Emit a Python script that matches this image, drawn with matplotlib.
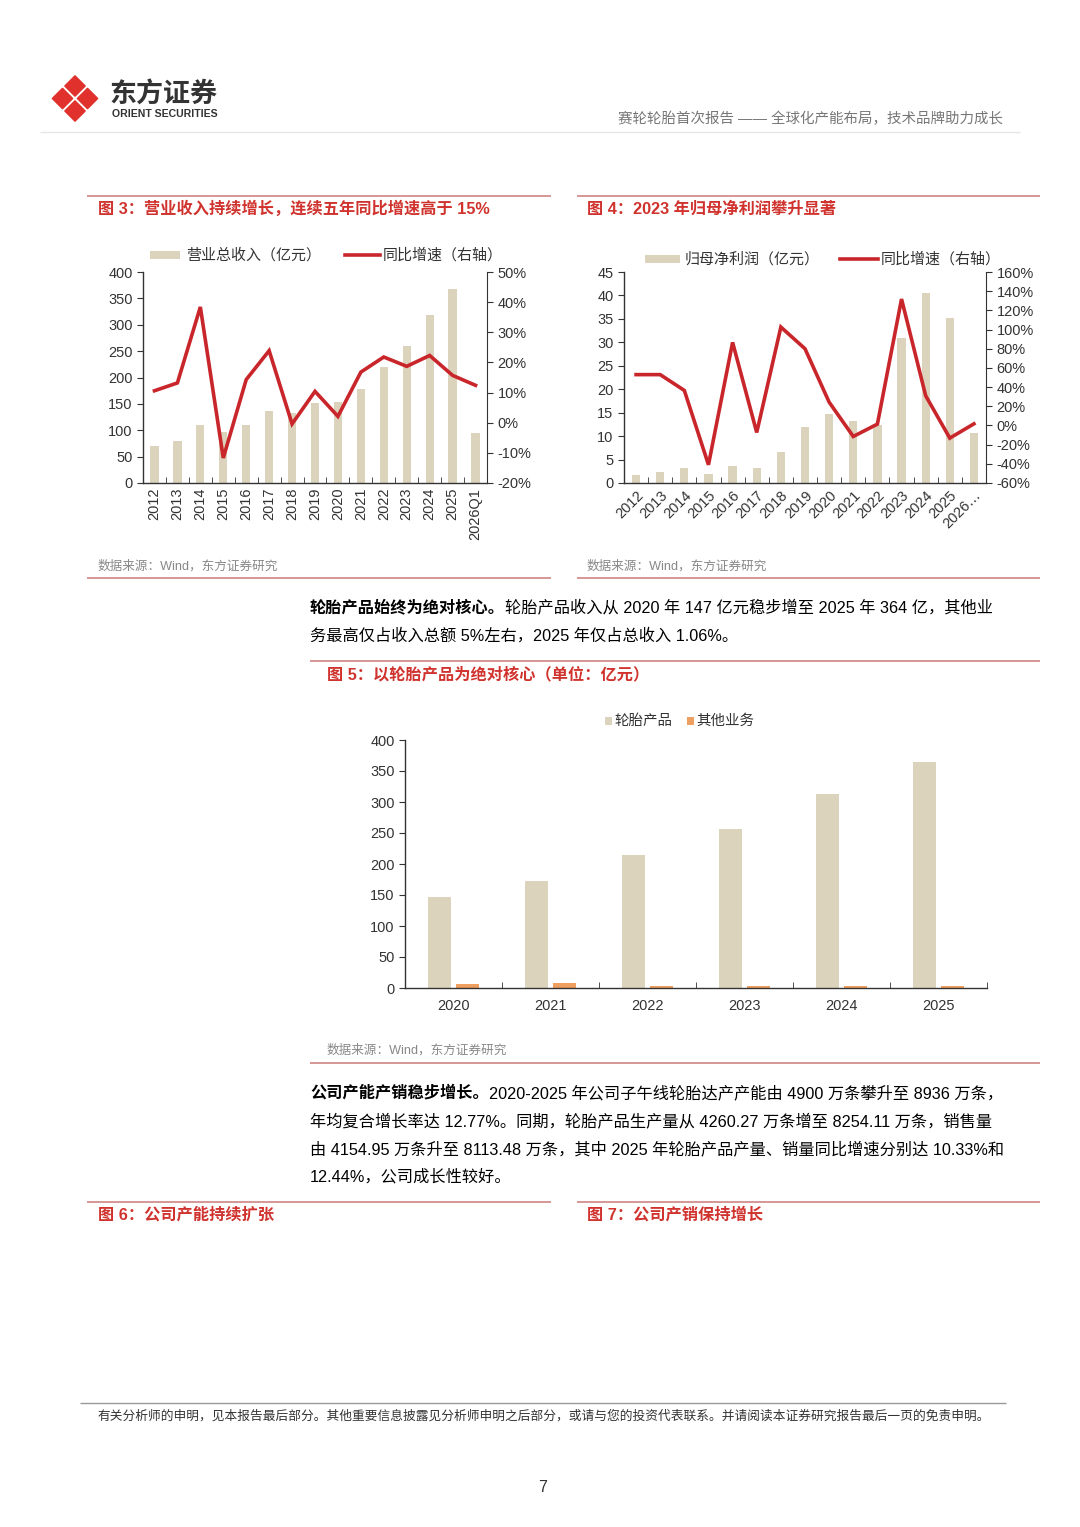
import matplotlib
matplotlib.use('Agg')
import matplotlib.pyplot as plt
from matplotlib.patches import Rectangle, Polygon
import numpy as np

plt.rcParams['font.family'] = ['Liberation Sans', 'Noto Sans CJK SC', 'DejaVu Sans']
plt.rcParams['axes.unicode_minus'] = False

# 图3 营业总收入
years3 = ['2012', '2013', '2014', '2015', '2016', '2017', '2018', '2019',
          '2020', '2021', '2022', '2023', '2024', '2025', '2026Q1']
revenue = [70, 79, 110, 96, 110, 137, 133, 151, 154, 179, 219, 259, 318, 367, 94]
revenue_yoy = [10.6, 13.2, 38.4, -11.7, 14.3, 23.9, -0.4, 10.4, 2.1, 16.8,
               21.8, 18.7, 22.3, 15.7, 12.4]

# 图4 归母净利润
years4 = ['2012', '2013', '2014', '2015', '2016', '2017', '2018', '2019',
          '2020', '2021', '2022', '2023', '2024', '2025', '2026…']
profit = [1.6, 2.4, 3.3, 1.9, 3.6, 3.2, 6.7, 11.9, 14.8, 13.2, 12.3, 31.0,
          40.6, 35.2, 10.6]
profit_yoy = [53, 53, 36.5, -41, 86.6, -7.3, 102.6, 80, 24.3, -11.5, 1.4,
              131.8, 31, -13.2, 1.7]

# 图5 收入构成
years5 = ['2020', '2021', '2022', '2023', '2024', '2025']
tire = [147, 172, 215, 256, 313, 364]
other = [6.5, 8, 3, 3.5, 3.5, 3.8]

W, H = 1080, 1527
BEIGE = '#DCD3BC'
RED = '#C9262B'
ORANGE = '#EFA060'
TITLE_RED = '#D0332E'
RULE_RED = '#CC7A78'
TXT = '#333333'
GRAY = '#888888'
TICK = 14.5

fig = plt.figure(figsize=(W / 100, H / 100), dpi=100)
fig.patch.set_facecolor('white')

# overlay in pixel coordinates for page decoration
pg = fig.add_axes([0, 0, 1, 1])
pg.set_xlim(0, W)
pg.set_ylim(H, 0)
pg.axis('off')
pg.set_facecolor('none')


def pt(px):
    return px / 1.389


def hline(x0, x1, y, color=RULE_RED, lw=1.1):
    pg.plot([x0, x1], [y, y], color=color, lw=lw, solid_capstyle='butt')


def add_ax(l, t, r, b):
    return fig.add_axes([l / W, 1 - b / H, (r - l) / W, (b - t) / H])


# logo
cx, cy = 75, 98.5
d, h = 12.5, 10.0
for dx, dy in [(0, -d), (0, d), (-d, 0), (d, 0)]:
    px, py = cx + dx, cy + dy
    pg.add_patch(Polygon([(px, py - h), (px + h, py), (px, py + h), (px - h, py)],
                         closed=True, facecolor='#E0312D', edgecolor='#E0312D',
                         lw=1.2, joinstyle='round'))
pg.text(109, 95, '东方证券', fontsize=pt(27), fontweight='bold', color='#333333',
        va='center', ha='left', family=['Noto Sans CJK SC'])
pg.text(112, 114, 'ORIENT SECURITIES', fontsize=pt(10.5), fontweight='bold',
        color='#333333', va='center', ha='left')
pg.text(1003, 119, '赛轮轮胎首次报告 —— 全球化产能布局，技术品牌助力成长',
        fontsize=pt(14.5), color='#777777', ha='right', va='center')
hline(40, 1020, 132, color='#E6E6E6', lw=1)

TS = pt(16.2)
SRC = pt(12.6)
# figure titles and rules
hline(87, 551, 196)
hline(577, 1040, 196)
pg.text(98, 209, '图 3：营业收入持续增长，连续五年同比增速高于 15%', fontsize=TS,
        color=TITLE_RED, fontweight='bold', va='center')
pg.text(587, 209, '图 4：2023 年归母净利润攀升显著', fontsize=TS,
        color=TITLE_RED, fontweight='bold', va='center')
pg.text(98, 566, '数据来源：Wind，东方证券研究', fontsize=SRC, color=GRAY, va='center')
pg.text(587, 566, '数据来源：Wind，东方证券研究', fontsize=SRC, color=GRAY, va='center')
hline(87, 551, 578)
hline(577, 1040, 578)

hline(310, 1040, 661)
pg.text(327, 674, '图 5：以轮胎产品为绝对核心（单位：亿元）', fontsize=TS,
        color=TITLE_RED, fontweight='bold', va='center')
pg.text(327, 1050, '数据来源：Wind，东方证券研究', fontsize=SRC, color=GRAY, va='center')
hline(310, 1040, 1063)

hline(87, 551, 1202)
hline(577, 1040, 1202)
pg.text(98, 1215, '图 6：公司产能持续扩张', fontsize=TS, color=TITLE_RED,
        fontweight='bold', va='center')
pg.text(587, 1215, '图 7：公司产销保持增长', fontsize=TS, color=TITLE_RED,
        fontweight='bold', va='center')

hline(80, 1006, 1403, color='#999999', lw=1)
pg.text(98, 1416, '有关分析师的申明，见本报告最后部分。其他重要信息披露见分析师申明之后部分，或请与您的投资代表联系。并请阅读本证券研究报告最后一页的免责申明。',
        fontsize=pt(12.7), color=TXT, va='center')
pg.text(543, 1487, '7', fontsize=pt(16), color=TXT, ha='center', va='center')

# body paragraphs (bold lead + normal text)
fig.canvas.draw()
renderer = fig.canvas.get_renderer()
inv = pg.transData.inverted()


def para(lines, bold, y0, step, x=310, size=pt(16.2)):
    for i, line in enumerate(lines):
        y = y0 + i * step
        xx = x
        if i == 0:
            t = pg.text(xx, y, bold, fontsize=size, fontweight='bold', color='black', va='center')
            bb = t.get_window_extent(renderer)
            xx = inv.transform((bb.x1, bb.y0))[0]
        pg.text(xx, y, line, fontsize=size, color='black', va='center')


para(['轮胎产品收入从 2020 年 147 亿元稳步增至 2025 年 364 亿，其他业',
      '务最高仅占收入总额 5%左右，2025 年仅占总收入 1.06%。'],
     '轮胎产品始终为绝对核心。', 607, 29)
para(['2020-2025 年公司子午线轮胎达产产能由 4900 万条攀升至 8936 万条，',
      '年均复合增长率达 12.77%。同期，轮胎产品生产量从 4260.27 万条增至 8254.11 万条，销售量',
      '由 4154.95 万条升至 8113.48 万条，其中 2025 年轮胎产品产量、销量同比增速分别达 10.33%和',
      '12.44%，公司成长性较好。'],
     '公司产能产销稳步增长。', 1093, 28)


def style_axes(ax):
    ax.spines['top'].set_visible(False)
    ax.spines['right'].set_visible(False)
    for s in ['left', 'bottom']:
        ax.spines[s].set_color('#333333')
        ax.spines[s].set_linewidth(1)
    ax.tick_params(axis='y', labelsize=pt(TICK), colors='#333333', length=4, direction='out')
    ax.tick_params(axis='x', which='major', length=0, labelsize=pt(TICK), colors='#333333')
    ax.tick_params(axis='x', which='minor', length=4, direction='in', color='#333333')


def style_right(axb, ticks):
    axb.set_yticks(ticks)
    axb.set_yticklabels([f'{v}%' for v in ticks])
    for s in ['top', 'left', 'bottom']:
        axb.spines[s].set_visible(False)
    axb.spines['right'].set_color('#333333')
    axb.tick_params(axis='y', labelsize=pt(TICK), colors='#333333', length=4)


# ---------- 图3 ----------
ax3 = add_ax(143, 272, 487, 483)
x3 = np.arange(len(years3))
ax3.bar(x3, revenue, width=0.36, color=BEIGE, zorder=2)
ax3.set_xlim(-0.5, len(years3) - 0.5)
ax3.set_ylim(0, 400)
ax3.set_yticks(range(0, 401, 50))
ax3.set_xticks(x3)
ax3.set_xticks(np.arange(-0.5, len(years3), 1), minor=True)
ax3.set_xticklabels(years3, rotation=90)
style_axes(ax3)
ax3b = ax3.twinx()
ax3b.plot(x3, revenue_yoy, color=RED, lw=2.6, solid_joinstyle='miter')
ax3b.set_ylim(-20, 50)
style_right(ax3b, list(range(-20, 51, 10)))

pg.add_patch(Rectangle((150, 251), 30, 8, facecolor=BEIGE, edgecolor='none'))
pg.text(186, 255, '营业总收入（亿元）', fontsize=pt(15), color=TXT, va='center')
pg.plot([345, 380], [255, 255], color=RED, lw=2.6)
pg.text(383, 255, '同比增速（右轴）', fontsize=pt(15), color=TXT, va='center')

# ---------- 图4 ----------
ax4 = add_ax(624, 272, 986, 483)
x4 = np.arange(len(years4))
ax4.bar(x4, profit, width=0.34, color=BEIGE, zorder=2)
ax4.set_xlim(-0.5, len(years4) - 0.5)
ax4.set_ylim(0, 45)
ax4.set_yticks(range(0, 46, 5))
ax4.set_xticks(x4)
ax4.set_xticks(np.arange(-0.5, len(years4), 1), minor=True)
ax4.set_xticklabels(years4, rotation=45, ha='right', rotation_mode='anchor')
style_axes(ax4)
ax4b = ax4.twinx()
ax4b.plot(x4, profit_yoy, color=RED, lw=2.6, solid_joinstyle='miter')
ax4b.set_ylim(-60, 160)
style_right(ax4b, list(range(-60, 161, 20)))

pg.add_patch(Rectangle((645, 255), 35, 8, facecolor=BEIGE, edgecolor='none'))
pg.text(685, 259, '归母净利润（亿元）', fontsize=pt(15), color=TXT, va='center')
pg.plot([840, 878], [259, 259], color=RED, lw=2.6)
pg.text(881, 259, '同比增速（右轴）', fontsize=pt(15), color=TXT, va='center')

# ---------- 图5 ----------
ax5 = add_ax(405, 740, 987, 988)
x5 = np.arange(len(years5))
ax5.bar(x5 - 0.145, tire, width=0.23, color=BEIGE, zorder=2)
ax5.bar(x5 + 0.145, other, width=0.23, color=ORANGE, zorder=2)
ax5.set_xlim(-0.5, len(years5) - 0.5)
ax5.set_ylim(0, 400)
ax5.set_yticks(range(0, 401, 50))
ax5.set_xticks(x5)
ax5.set_xticks(np.arange(-0.5, len(years5), 1), minor=True)
ax5.set_xticklabels(years5)
style_axes(ax5)
ax5.tick_params(axis='x', which='major', pad=8)

pg.add_patch(Rectangle((605, 717), 7, 8, facecolor=BEIGE, edgecolor='none'))
pg.text(614, 721, '轮胎产品', fontsize=pt(14.5), color=TXT, va='center')
pg.add_patch(Rectangle((687, 717), 7, 8, facecolor=ORANGE, edgecolor='none'))
pg.text(696, 721, '其他业务', fontsize=pt(14.5), color=TXT, va='center')

fig.savefig('out.png', dpi=100, facecolor='white')
